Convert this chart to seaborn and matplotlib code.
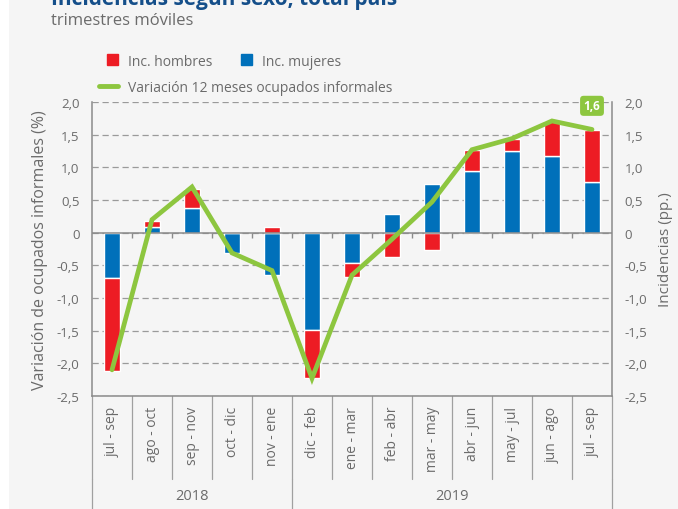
import numpy as np
import pandas as pd
import matplotlib
matplotlib.use("Agg")
import matplotlib.pyplot as plt
import seaborn as sns
from matplotlib.patches import Patch, Rectangle
from matplotlib.lines import Line2D
from matplotlib.ticker import FuncFormatter

# Datos (trimestres móviles)
periodos = ["jul - sep", "ago - oct", "sep - nov", "oct - dic", "nov - ene",
            "dic - feb", "ene - mar", "feb - abr", "mar - may", "abr - jun",
            "may - jul", "jun - ago", "jul - sep"]
anios = ["2018", "2019"]
n_2018 = 5
inc_mujeres = [-0.70, 0.08, 0.38, -0.31, -0.65, -1.49, -0.46, 0.28, 0.75, 0.95, 1.25, 1.17, 0.78]
inc_hombres = [-1.42, 0.10, 0.29, 0.00, 0.09, -0.74, -0.22, -0.38, -0.26, 0.32, 0.19, 0.54, 0.79]
variacion = [-2.10, 0.20, 0.70, -0.31, -0.58, -2.23, -0.65, -0.10, 0.47, 1.27, 1.44, 1.71, 1.58]
etiqueta_final = "1,6"

rojo = "#ED1C24"
azul = "#0070BA"
verde = "#8DC63F"
gris = "#8a8a8a"
texto = "#6b6b6b"
fondo = "#f5f5f5"

sns.set_theme(style="white")
plt.rcParams["font.family"] = ["Open Sans", "DejaVu Sans"]

pos = np.arange(len(periodos))
df = pd.DataFrame({"pos": pos, "mujeres": inc_mujeres,
                   "hombres": inc_hombres, "variacion": variacion})
# hombres se apila sobre mujeres cuando tienen el mismo signo
base_h = np.where(np.sign(df["hombres"]) == np.sign(df["mujeres"]), df["mujeres"], 0)

fig = plt.figure(figsize=(6.78, 5.10), dpi=100, facecolor=fondo)
fig.patches.append(Rectangle((0, 0), 9 / 678, 1, transform=fig.transFigure,
                             facecolor="white", edgecolor="none", zorder=0))
ax = fig.add_axes([92 / 678, 1 - 397 / 510, 520 / 678, 294 / 510])
ax.set_facecolor(fondo)

sns.barplot(data=df, x="pos", y="mujeres", color=azul, saturation=1,
            width=0.4, ax=ax, zorder=2)
ax.bar(pos, df["hombres"], bottom=base_h, width=0.4, color=rojo, zorder=2)
sns.lineplot(data=df, x="pos", y="variacion", color=verde, lw=3.4, ax=ax,
             zorder=4, solid_joinstyle="miter")

ax.set_xlim(-0.5, len(periodos) - 0.5)
ax.set_ylim(-2.5, 2.0)
yticks = np.arange(-2.5, 2.01, 0.5)
fmt = FuncFormatter(lambda v, p: "0" if abs(v) < 1e-9 else f"{v:.1f}".replace(".", ","))
ax.set_yticks(yticks)
ax.yaxis.set_major_formatter(fmt)
ax.tick_params(axis="y", length=0, pad=9, labelsize=9.5, labelcolor=texto)
ax.yaxis.grid(True, ls=(0, (5, 3)), color="#9a9a9a", lw=0.9)
ax.set_axisbelow(True)
ax.axhline(0, color=gris, lw=1.1, zorder=3)

# ticks en los bordes de categoría
bordes = np.arange(len(periodos) + 1) - 0.5
ax.set_xticks(pos)
ax.set_xticklabels([])
ax.tick_params(axis="x", which="major", length=0)
ax.set_xticks(bordes[1:-1], minor=True)
ax.tick_params(axis="x", which="minor", direction="in", length=4, color=gris, width=1)
ax.vlines(bordes[1:-1], 0, -0.08, color=gris, lw=1, zorder=3)
ax.set_xlabel("")

for s in ["top", "right"]:
    ax.spines[s].set_visible(False)
for s in ["left", "bottom"]:
    ax.spines[s].set_color(gris)
    ax.spines[s].set_linewidth(1.1)

ax.set_ylabel("Variación de ocupados informales (%)", fontsize=11.5, color=texto)
ax.yaxis.set_label_coords(-0.085, 0.5)

ax2 = ax.twinx()
ax2.set_ylim(-2.5, 2.0)
ax2.set_yticks(yticks)
ax2.yaxis.set_major_formatter(fmt)
ax2.tick_params(axis="y", length=0, pad=9, labelsize=9.5, labelcolor=texto)
for s in ["top", "left", "bottom"]:
    ax2.spines[s].set_visible(False)
ax2.spines["right"].set_color(gris)
ax2.spines["right"].set_linewidth(1.1)
ax2.grid(False)
ax2.set_ylabel("Incidencias (pp.)", fontsize=11, color=texto)
ax2.yaxis.set_label_coords(1.088, 0.5)

# etiqueta del último valor
ax.annotate(etiqueta_final, xy=(pos[-1], variacion[-1]), xytext=(0, 17),
            textcoords="offset points", ha="center", va="center",
            color="white", fontsize=8.5, fontweight="bold", zorder=6,
            bbox=dict(boxstyle="round,pad=0.3", fc=verde, ec="none"))

# tabla de categorías bajo el eje
trans = ax.get_xaxis_transform()
y_celda = -(480 - 397) / 294
y_fin = -(512 - 397) / 294
for b in bordes:
    ax.plot([b, b], [0, y_celda], transform=trans, color="#a0a0a0", lw=0.9,
            clip_on=False)
for b in [bordes[0], bordes[n_2018], bordes[-1]]:
    ax.plot([b, b], [y_celda, y_fin], transform=trans, color="#a0a0a0", lw=0.9,
            clip_on=False)
for p, lab in zip(pos, periodos):
    ax.text(p, -(407 - 397) / 294, lab, transform=trans, rotation=90,
            ha="center", va="top", fontsize=10, color=texto)
centros = [(bordes[0] + bordes[n_2018]) / 2, (bordes[n_2018] + bordes[-1]) / 2]
for c, a in zip(centros, anios):
    ax.text(c, -(497 - 397) / 294, a, transform=trans, ha="center", va="center",
            fontsize=10.5, color=texto)

# leyenda
h1 = [Patch(color=rojo), Patch(color=azul)]
leg1 = fig.legend(h1, ["Inc. hombres", "Inc. mujeres"], loc="center left",
                  bbox_to_anchor=(107 / 678, 1 - 62 / 510), ncol=2, frameon=False,
                  fontsize=10, borderpad=0, borderaxespad=0, handlelength=0.8,
                  handleheight=0.8, handletextpad=0.7, columnspacing=2.1,
                  labelcolor=texto)
h2 = [Line2D([], [], color=verde, lw=3.5, solid_capstyle="round")]
leg2 = fig.legend(h2, ["Variación 12 meses ocupados informales"], loc="center left",
                  bbox_to_anchor=(99 / 678, 1 - 88 / 510), frameon=False,
                  fontsize=10, borderpad=0, borderaxespad=0, handlelength=1.4,
                  handletextpad=0.7, labelcolor=texto)

# títulos (cortados en el borde superior, como en el original)
fig.text(51 / 678, 1 - 5 / 510, "Incidencias según sexo, total país",
         fontsize=15, fontweight="bold", color="#154f8a", va="baseline")
fig.text(51 / 678, 1 - 25 / 510, "trimestres móviles", fontsize=12,
         color=texto, va="baseline")

fig.savefig("out.png", dpi=100, facecolor=fondo)
